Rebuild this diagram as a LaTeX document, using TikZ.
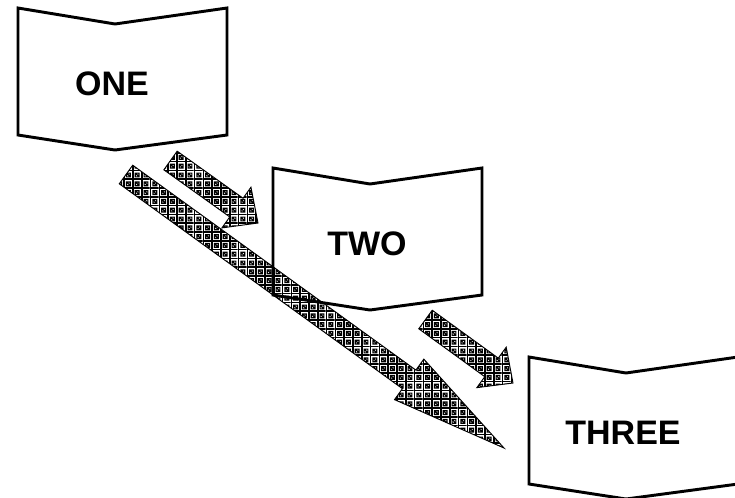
\documentclass[tikz,border=0pt]{standalone}
\usepackage{fontspec}
\setmainfont{Liberation Sans}
\usepackage{tikz}
\usetikzlibrary{calc,patterns}

% woven fill for the block arrows
\pgfdeclarepatternformonly{weave}{\pgfpoint{-0.1pt}{-0.1pt}}{\pgfpoint{6.7pt}{6.7pt}}{\pgfpoint{6.6pt}{6.6pt}}{%
  \pgfsetlinewidth{1.2pt}
  \pgfpathmoveto{\pgfpoint{0pt}{0.7pt}}\pgfpathlineto{\pgfpoint{6.6pt}{0.7pt}}
  \pgfpathmoveto{\pgfpoint{0.7pt}{0pt}}\pgfpathlineto{\pgfpoint{0.7pt}{6.6pt}}
  \pgfusepath{stroke}
  \pgfsetlinewidth{0.9pt}
  \pgfpathrectangle{\pgfpoint{2.5pt}{2.5pt}}{\pgfpoint{2.8pt}{2.8pt}}
  \pgfpathmoveto{\pgfpoint{2.5pt}{5.3pt}}\pgfpathlineto{\pgfpoint{5.3pt}{2.5pt}}
  \pgfusepath{stroke}
}

% box with a notch top and bottom: name, left x, top y, text
\newcommand\notchbox[4]{%
  \draw[box] (#2,#3) -- ++(97,16) -- ++(112,-16) -- ++(0,127) -- ++(-112,15) -- ++(-97,-15) -- cycle;
  \node[label] (#1) at ({#2+94},{#3+76}) {#4};
}

% block arrow from tail to tip: tail, tip, head length
\newcommand\blockarrow[3]{%
  \coordinate (hb) at ($(#2)!#3!(#1)$);
  \filldraw[arrowfill] ($(#1)!8.6pt!90:(#2)$) -- ($(hb)!8.6pt!90:(#2)$) -- ($(hb)!18.75pt!90:(#2)$)
    -- (#2) -- ($(hb)!18.75pt!-90:(#2)$) -- ($(hb)!8.6pt!-90:(#2)$) -- ($(#1)!8.6pt!-90:(#2)$) -- cycle;
}

\begin{document}
\begin{tikzpicture}[
    x=0.75pt, y=-0.75pt,
    box/.style={draw=black, line width=2.2pt, line join=miter, fill=white},
    label/.style={font=\fontsize{25.5}{30}\selectfont\bfseries, inner sep=0pt},
    arrowfill/.style={pattern=weave, draw=black, line width=0.7pt}
]
    \useasboundingbox (0,0) rectangle (735,497);

    \notchbox{n1}{18}{8}{ONE}
    \notchbox{n2}{273}{168}{TWO}
    \notchbox{n3}{529}{357}{THREE}

    \coordinate (a1) at (170.5,160.5);
    \coordinate (a2) at (258,223);
    \coordinate (b1) at (425.5,319.5);
    \coordinate (b2) at (513,383);
    \coordinate (c1) at (126,174.5);
    \coordinate (c2) at (504,448);

    \blockarrow{a1}{a2}{19.9pt}
    \blockarrow{b1}{b2}{19.9pt}
    \blockarrow{c1}{c2}{87.8pt}
\end{tikzpicture}
\end{document}
